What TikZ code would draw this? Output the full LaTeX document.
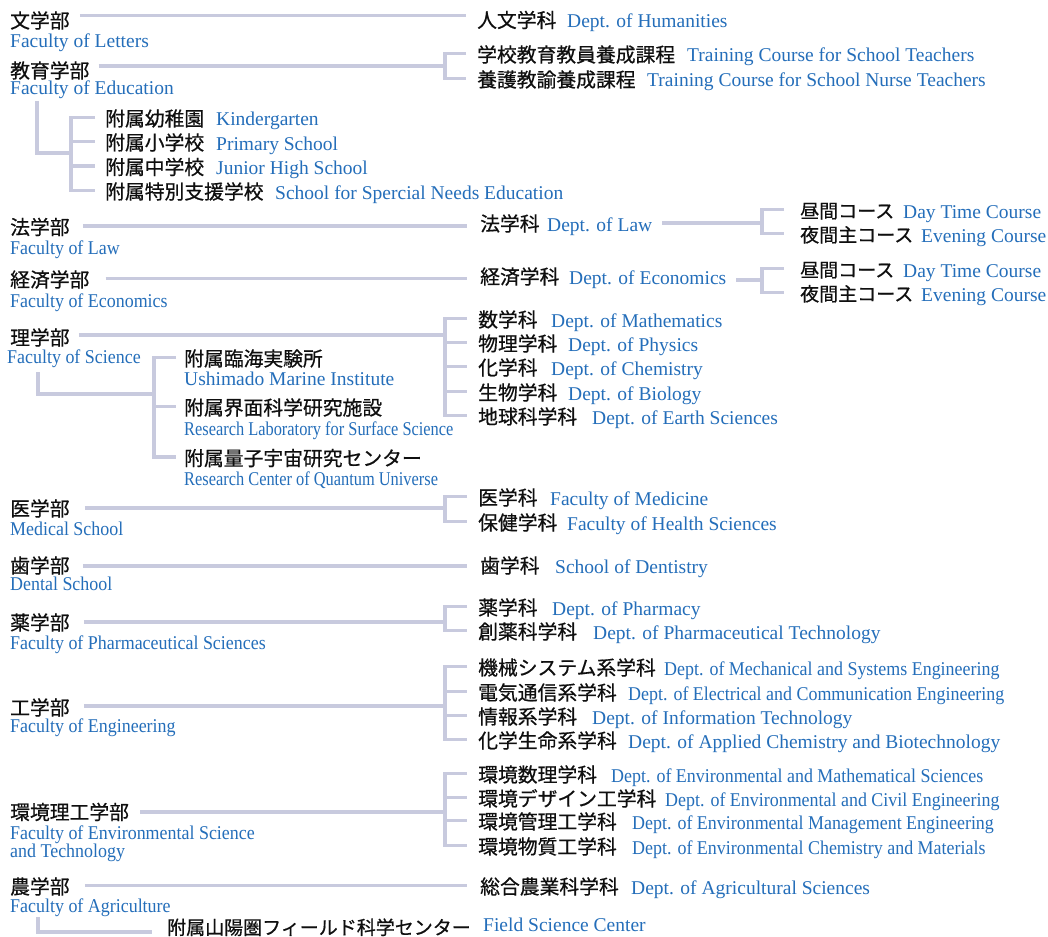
\documentclass[tikz,border=0pt]{standalone}
\usepackage{fontspec}
\setmainfont{Liberation Serif}
\newfontfamily\jpfont[FakeBold=0.6]{Noto Sans CJK JP}
\newfontfamily\ennarrowfont[FakeStretch=0.92]{Liberation Serif}
\newfontfamily\enslimfont[FakeStretch=0.84]{Liberation Serif}

\definecolor{enblue}{RGB}{36,110,186}
\definecolor{jpblack}{RGB}{15,15,15}
\definecolor{branchgray}{RGB}{200,202,222}

\tikzset{
  jp/.style={anchor=base west, inner sep=0pt, text height=17pt, text depth=0pt,
    text=jpblack, font=\jpfont\fontsize{19.8pt}{23pt}\selectfont},
  jpsmall/.style={jp, font=\jpfont\fontsize{19pt}{23pt}\selectfont},
  en/.style={anchor=base west, inner sep=0pt, text=enblue,
    font=\fontsize{19.5pt}{23pt}\selectfont},
  ennarrow/.style={en, font=\ennarrowfont\fontsize{19.5pt}{23pt}\selectfont},
  enslim/.style={en, font=\enslimfont\fontsize{19.5pt}{23pt}\selectfont},
  branch/.style={draw=branchgray, line width=3.6pt, line join=miter},
}

\begin{document}
\begin{tikzpicture}[x=1pt,y=-1pt]
\fill[white] (0,0) rectangle (1048,936);
\useasboundingbox (0,0) rectangle (1048,936);

% faculties
\node[jp] (fLet) at (10,28) {文学部};
\node[en] (fLetEn) at (10,47.5) {Faculty of Letters};
\node[jp] (fEdu) at (10,78) {教育学部};
\node[en] (fEduEn) at (10,94.5) {Faculty of Education};
\node[jp] (fLaw) at (10,234.5) {法学部};
\node[ennarrow] (fLawEn) at (10,254.5) {Faculty of Law};
\node[jp] (fEco) at (10,287) {経済学部};
\node[ennarrow] (fEcoEn) at (10,307) {Faculty of Economics};
\node[jp] (fSci) at (10,345) {理学部};
\node[ennarrow] (fSciEn) at (7,363.5) {Faculty of Science};
\node[jp] (fMed) at (10,516) {医学部};
\node[ennarrow] (fMedEn) at (10,535.5) {Medical School};
\node[jp] (fDen) at (10,573) {歯学部};
\node[ennarrow] (fDenEn) at (10,590.5) {Dental School};
\node[jp] (fPha) at (10,630) {薬学部};
\node[ennarrow] (fPhaEn) at (10,649.5) {Faculty of Pharmaceutical Sciences};
\node[jp] (fEng) at (10,715) {工学部};
\node[ennarrow] (fEngEn) at (10,732.5) {Faculty of Engineering};
\node[jp] (fEnv) at (10,819.5) {環境理工学部};
\node[ennarrow] (fEnvEn) at (10,839.5) {Faculty of Environmental Science};
\node[ennarrow] (fEnvEnB) at (10,857.5) {and Technology};
\node[jp] (fAgr) at (10,894) {農学部};
\node[ennarrow] (fAgrEn) at (10,912.5) {Faculty of Agriculture};

% departments
\node[jp] (dHum) at (477,27.5) {人文学科};
\node[en] (dHumEn) at (567,27.5) {Dept. of Humanities};
\node[jp] (dTea) at (477,62) {学校教育教員養成課程};
\node[en] (dTeaEn) at (687,62) {Training Course for School Teachers};
\node[jp] (dNur) at (477,87) {養護教諭養成課程};
\node[en] (dNurEn) at (647,87) {Training Course for School Nurse Teachers};

\node[jp] (dLaw) at (480,231) {法学科};
\node[en] (dLawEn) at (547,231) {Dept. of Law};
\node[jpsmall] (cLawDay) at (800,218) {昼間コース};
\node[en] (cLawDayEn) at (903,218) {Day Time Course};
\node[jpsmall] (cLawEve) at (800,242) {夜間主コース};
\node[en] (cLawEveEn) at (921,242) {Evening Course};

\node[jp] (dEco) at (480,284) {経済学科};
\node[en] (dEcoEn) at (569,284) {Dept. of Economics};
\node[jpsmall] (cEcoDay) at (800,277) {昼間コース};
\node[en] (cEcoDayEn) at (903,277) {Day Time Course};
\node[jpsmall] (cEcoEve) at (800,301) {夜間主コース};
\node[en] (cEcoEveEn) at (921,301) {Evening Course};

\node[jp] (dMat) at (478,327) {数学科};
\node[en] (dMatEn) at (551,327) {Dept. of Mathematics};
\node[jp] (dPhy) at (478,351) {物理学科};
\node[en] (dPhyEn) at (568,351) {Dept. of Physics};
\node[jp] (dChe) at (478,375) {化学科};
\node[en] (dCheEn) at (551,375) {Dept. of Chemistry};
\node[jp] (dBio) at (478,400) {生物学科};
\node[en] (dBioEn) at (568,400) {Dept. of Biology};
\node[jp] (dEar) at (478,424) {地球科学科};
\node[en] (dEarEn) at (592,424) {Dept. of Earth Sciences};

\node[jp] (dMdc) at (478,505) {医学科};
\node[en] (dMdcEn) at (550,505) {Faculty of Medicine};
\node[jp] (dHea) at (478,530) {保健学科};
\node[en] (dHeaEn) at (567,530) {Faculty of Health Sciences};

\node[jp] (dDnt) at (480,573) {歯学科};
\node[en] (dDntEn) at (555,573) {School of Dentistry};

\node[jp] (dPhm) at (478,615) {薬学科};
\node[en] (dPhmEn) at (552,615) {Dept. of Pharmacy};
\node[jp] (dPht) at (478,639) {創薬科学科};
\node[en] (dPhtEn) at (593,639) {Dept. of Pharmaceutical Technology};

\node[jp] (dMec) at (478,675) {機械システム系学科};
\node[ennarrow] (dMecEn) at (664,675) {Dept. of Mechanical and Systems Engineering};
\node[jp] (dEle) at (478,700) {電気通信系学科};
\node[ennarrow] (dEleEn) at (628,700) {Dept. of Electrical and Communication Engineering};
\node[jp] (dInf) at (478,724) {情報系学科};
\node[en] (dInfEn) at (592,724) {Dept. of Information Technology};
\node[jp] (dApp) at (478,748) {化学生命系学科};
\node[en] (dAppEn) at (628,748) {Dept. of Applied Chemistry and Biotechnology};

\node[jp] (dEma) at (478,782) {環境数理学科};
\node[ennarrow] (dEmaEn) at (611,782) {Dept. of Environmental and Mathematical Sciences};
\node[jp] (dEci) at (478,806) {環境デザイン工学科};
\node[ennarrow] (dEciEn) at (665,806) {Dept. of Environmental and Civil Engineering};
\node[jp] (dEmg) at (478,829) {環境管理工学科};
\node[ennarrow] (dEmgEn) at (632,829) {Dept. of Environmental Management Engineering};
\node[jp] (dEch) at (478,854) {環境物質工学科};
\node[ennarrow] (dEchEn) at (632,854) {Dept. of Environmental Chemistry and Materials};

\node[jp] (dAgr) at (480,894) {総合農業科学科};
\node[en] (dAgrEn) at (631,894) {Dept. of Agricultural Sciences};

% attached schools and institutes
\node[jp] (kKin) at (105,126) {附属幼稚園};
\node[en] (kKinEn) at (216,126) {Kindergarten};
\node[jp] (kPri) at (105,150) {附属小学校};
\node[en] (kPriEn) at (216,150) {Primary School};
\node[jp] (kJun) at (105,174.5) {附属中学校};
\node[en] (kJunEn) at (216,174.5) {Junior High School};
\node[jp] (kSpe) at (105,199) {附属特別支援学校};
\node[en] (kSpeEn) at (275,199) {School for Spercial Needs Education};

\node[jp] (kMar) at (184,366) {附属臨海実験所};
\node[en] (kMarEn) at (184,385.5) {Ushimado Marine Institute};
\node[jp] (kSur) at (184,415) {附属界面科学研究施設};
\node[enslim] (kSurEn) at (184,435) {Research Laboratory for Surface Science};
\node[jp] (kQua) at (184,465.6) {附属量子宇宙研究センター};
\node[enslim] (kQuaEn) at (184,485) {Research Center of Quantum Universe};

\node[jpsmall] (kFie) at (167,934.5) {附属山陽圏フィールド科学センター};
\node[en] (kFieEn) at (483,931.5) {Field Science Center};

% junctions
\coordinate (eduBr) at (445,66);
\coordinate (lawBr) at (762,223);
\coordinate (ecoBr) at (762,280);
\coordinate (sciBr) at (445,335);
\coordinate (medBr) at (445,508);
\coordinate (phaBr) at (445,622);
\coordinate (engBr) at (445,706);
\coordinate (envBr) at (445,812);
\coordinate (eduTop) at (37,101);
\coordinate (eduKids) at (71,153);
\coordinate (sciTop) at (38,372);
\coordinate (sciKids) at (154,394);
\coordinate (agrTop) at (38,917);

% faculty to department
\draw[branch] ([xshift=10pt,yshift=4pt]fLet.east) -- ([xshift=-11pt,yshift=4pt]fLet.east -| dHum.west);

\draw[branch] ([xshift=9pt]fEdu.east |- eduBr) -- (eduBr);
\draw[branch] ([xshift=-11pt]dTea.west) -| (eduBr) |- ([xshift=-11pt]dNur.west);

\draw[branch] ([xshift=13pt]fLaw.east) -- ([xshift=-13pt]fLaw.east -| dLaw.west);
\draw[branch] ([xshift=10pt]dLawEn.east |- lawBr) -- (lawBr);
\draw[branch] ([xshift=-16pt]cLawDay.west) -| (lawBr) |- ([xshift=-16pt]cLawEve.west);

\draw[branch] ([xshift=16pt]fEco.east) -- ([xshift=-13pt]fEco.east -| dEco.west);
\draw[branch] ([xshift=10pt]dEcoEn.east |- ecoBr) -- (ecoBr);
\draw[branch] ([xshift=-16pt]cEcoDay.west) -| (ecoBr) |- ([xshift=-16pt]cEcoEve.west);

\draw[branch] ([xshift=9pt]fSci.east |- sciBr) -- (sciBr);
\draw[branch] ([xshift=-11pt]dMat.west) -| (sciBr) |- ([xshift=-11pt]dEar.west);
\foreach \d in {dPhy,dChe,dBio}
  \draw[branch] (sciBr |- \d.west) -- ([xshift=-11pt]\d.west);

\draw[branch] ([xshift=15pt]fMed.east |- medBr) -- (medBr);
\draw[branch] ([xshift=-11pt]dMdc.west) -| (medBr) |- ([xshift=-11pt]dHea.west);

\draw[branch] ([xshift=13pt,yshift=-1.5pt]fDen.east) -- ([xshift=-13pt,yshift=-1.5pt]fDen.east -| dDnt.west);

\draw[branch] ([xshift=14pt]fPha.east |- phaBr) -- (phaBr);
\draw[branch] ([xshift=-11pt]dPhm.west) -| (phaBr) |- ([xshift=-11pt]dPht.west);

\draw[branch] ([xshift=14pt]fEng.east |- engBr) -- (engBr);
\draw[branch] ([xshift=-11pt]dMec.west) -| (engBr) |- ([xshift=-11pt]dApp.west);
\foreach \d in {dEle,dInf}
  \draw[branch] (engBr |- \d.west) -- ([xshift=-11pt]\d.west);

\draw[branch] ([xshift=11pt]fEnv.east |- envBr) -- (envBr);
\draw[branch] ([xshift=-11pt]dEma.west) -| (envBr) |- ([xshift=-11pt]dEch.west);
\foreach \d in {dEci,dEmg}
  \draw[branch] (envBr |- \d.west) -- ([xshift=-11pt]\d.west);

\draw[branch] ([xshift=15pt]fAgr.east) -- ([xshift=-13pt]fAgr.east -| dAgr.west);

% faculty to attached schools
\draw[branch] (eduTop) |- (eduKids);
\draw[branch] ([xshift=-10pt]kKin.west) -| (eduKids) |- ([xshift=-10pt]kSpe.west);
\foreach \k in {kPri,kJun}
  \draw[branch] (eduKids |- \k.west) -- ([xshift=-10pt]\k.west);

\draw[branch] (sciTop) |- (sciKids);
\draw[branch] ([xshift=-8pt]kMar.west) -| (sciKids) |- ([xshift=-8pt]kQua.west);
\draw[branch] (sciKids |- kSur.west) -- ([xshift=-8pt]kSur.west);

\draw[branch] (agrTop) |- ([xshift=-15pt,yshift=-6pt]kFie.west);
\end{tikzpicture}
\end{document}
